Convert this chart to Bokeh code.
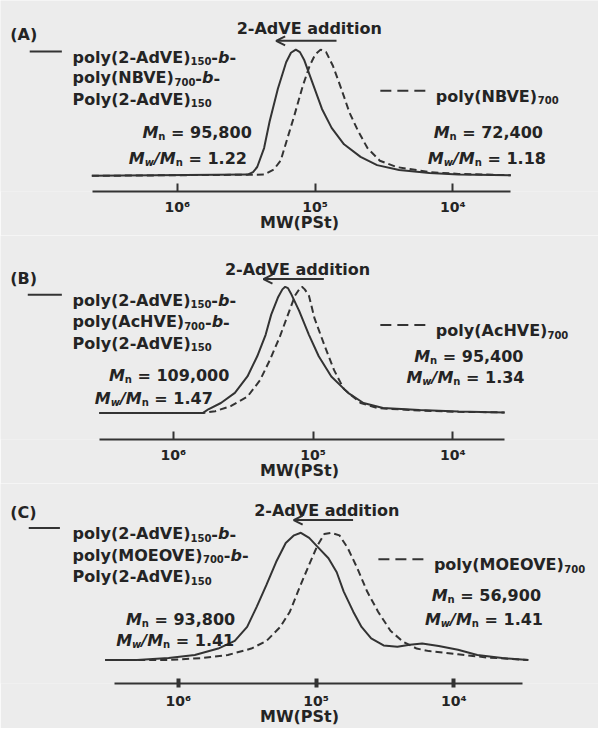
from bokeh.plotting import figure
from bokeh.layouts import column
from bokeh.models import Range1d, FixedTicker, Label, Arrow, OpenHead
from bokeh.embed import file_html
from bokeh.resources import INLINE

# ---------------- data ----------------
tick_values = [1e4, 1e5, 1e6]
tick_labels = ["10\u2074", "10\u2075", "10\u2076"]
x_title = "MW(PSt)"
panel_tags = ["(A)", "(B)", "(C)"]
mid_blocks = ["NBVE", "AcHVE", "MOEOVE"]
end_dp = "150"
mid_dp = "700"
arrow_text = "2-AdVE addition"
mn_block = ["95,800", "109,000", "93,800"]
pdi_block = ["1.22", "1.47", "1.41"]
mn_homo = ["72,400", "95,400", "56,900"]
pdi_homo = ["1.18", "1.34", "1.41"]

# (A) triblock (solid) and poly(NBVE)700 (dashed): log10(MW) and normalised RI intensity
a_solid_logmw = [6.62, 5.49, 5.45, 5.42, 5.37, 5.33, 5.27, 5.21, 5.175, 5.14, 5.11, 5.08, 5.02,
                 4.95, 4.88, 4.79, 4.67, 4.55, 4.39, 4.17, 3.96, 3.58]
a_solid_int = [0.0, 0.01, 0.03, 0.07, 0.22, 0.43, 0.69, 0.90, 0.975, 1.0, 0.98, 0.92, 0.74,
               0.53, 0.38, 0.25, 0.15, 0.085, 0.047, 0.023, 0.01, 0.005]
a_dash_logmw = [6.62, 5.37, 5.30, 5.25, 5.20, 5.15, 5.09, 5.04, 5.00, 4.96, 4.92, 4.87, 4.81,
                4.75, 4.69, 4.62, 4.53, 4.41, 4.17, 3.96, 3.58]
a_dash_int = [0.0, 0.01, 0.05, 0.12, 0.30, 0.48, 0.71, 0.87, 0.96, 1.0, 0.98, 0.87, 0.69,
              0.50, 0.36, 0.22, 0.12, 0.07, 0.03, 0.015, 0.005]

# (B) triblock (solid) and poly(AcHVE)700 (dashed)
b_solid_logmw = [6.53, 5.79, 5.75, 5.66, 5.56, 5.47, 5.40, 5.34, 5.30, 5.25, 5.22, 5.20, 5.18,
                 5.16, 5.10, 5.03, 4.96, 4.87, 4.75, 4.64, 4.50, 4.24, 3.96, 3.63]
b_solid_int = [0.0, 0.0, 0.03, 0.08, 0.16, 0.29, 0.45, 0.62, 0.78, 0.92, 0.98, 1.0, 0.99,
               0.95, 0.81, 0.62, 0.45, 0.29, 0.16, 0.08, 0.04, 0.025, 0.012, 0.005]
b_dash_logmw = [6.53, 5.79, 5.70, 5.59, 5.47, 5.38, 5.31, 5.24, 5.18, 5.13, 5.10, 5.08, 5.06,
                5.03, 4.99, 4.92, 4.85, 4.78, 4.66, 4.54, 4.24, 3.96, 3.63]
b_dash_int = [0.0, 0.0, 0.015, 0.055, 0.13, 0.26, 0.42, 0.60, 0.78, 0.93, 0.98, 1.0, 0.98,
              0.93, 0.75, 0.54, 0.34, 0.19, 0.08, 0.04, 0.02, 0.01, 0.005]

# (C) triblock (solid) and poly(MOEOVE)700 (dashed)
c_solid_logmw = [6.53, 6.30, 6.07, 5.88, 5.71, 5.59, 5.50, 5.43, 5.36, 5.29, 5.22, 5.16, 5.11,
                 5.05, 4.98, 4.91, 4.85, 4.80, 4.73, 4.67, 4.60, 4.51, 4.41, 4.32, 4.23, 4.11,
                 3.97, 3.83, 3.65, 3.46]
c_solid_int = [0.0, 0.0, 0.015, 0.04, 0.09, 0.15, 0.26, 0.42, 0.59, 0.77, 0.92, 0.98, 1.0,
               0.96, 0.88, 0.80, 0.69, 0.54, 0.38, 0.26, 0.17, 0.115, 0.105, 0.12, 0.13, 0.11,
               0.08, 0.04, 0.015, 0.0]
c_dash_logmw = [6.53, 6.07, 5.83, 5.64, 5.47, 5.36, 5.26, 5.19, 5.12, 5.05, 4.99, 4.94, 4.89,
                4.83, 4.77, 4.70, 4.63, 4.55, 4.46, 4.37, 4.27, 4.18, 3.97, 3.76, 3.46]
c_dash_int = [0.0, 0.0, 0.015, 0.04, 0.09, 0.15, 0.26, 0.38, 0.57, 0.75, 0.90, 0.99, 1.0,
              0.98, 0.88, 0.72, 0.54, 0.38, 0.23, 0.145, 0.09, 0.07, 0.045, 0.02, 0.0]

curves = [
    (a_solid_logmw, a_solid_int, a_dash_logmw, a_dash_int),
    (b_solid_logmw, b_solid_int, b_dash_logmw, b_dash_int),
    (c_solid_logmw, c_solid_int, c_dash_logmw, c_dash_int),
]

# ---------------- styling / layout ----------------
BG = "#ececec"
TXT = "#242424"
LINE = "#333333"
FONT = "DejaVu Sans"
FS = 16
SUB = 10
W = 598
KX = 598 / 614.0   # reference px -> page px
KY = 728 / 744.0

EM = {' ': 0.348, '(': 0.457, ')': 0.457, ',': 0.380, '-': 0.415, '.': 0.380, '/': 0.365,
      '=': 0.838, 'A': 0.774, 'B': 0.762, 'C': 0.734, 'E': 0.683, 'H': 0.837, 'M': 0.995,
      'N': 0.837, 'O': 0.850, 'P': 0.733, 'V': 0.774, 'b': 0.716, 'c': 0.593, 'd': 0.716,
      'l': 0.343, 'n': 0.712, 'o': 0.687, 'p': 0.716, 'w': 0.924, 'y': 0.652, 'a': 0.675,
      'i': 0.343, 't': 0.478}
for _d in "0123456789":
    EM[_d] = 0.696


def text_w(s, size):
    return sum(EM.get(c, 0.68) for c in s) * size


# all positions in reference pixels
layout = [
    dict(h=235, bb=44, axis=195, x5=323, dec=141.5, xb=(94, 524), base=179, top=50,
         tag=(10, 29), title=(317, 23), arrow=(345, 283, 41), sline=(30, 63, 52),
         lx=74, ly=(52, 73, 95), dline=(390, 440, 92), dtext=(447, 92),
         lstat=((258, 129), (253, 155)), rstat=((557, 129), (560, 155)),
         tin=8, tout=0, tw=2, std=7, lstd=-5),
    dict(h=248, bb=44, axis=449, x5=321, dec=143.5, xb=(102, 517), base=422, top=293,
         tag=(10, 279), title=(305, 269), arrow=(332, 270, 285), sline=(28, 63, 301),
         lx=74, ly=(301, 323, 345), dline=(390, 440, 332), dtext=(447, 332),
         lstat=((235, 378), (218, 401)), rstat=((537, 358), (538, 380)),
         tin=8, tout=0, tw=2, std=7, lstd=-5),
    dict(h=245, bb=45, axis=701, x5=324, dec=141.5, xb=(117, 536), base=677, top=547,
         tag=(10, 520), title=(335, 518), arrow=(362, 301, 534), sline=(29, 61, 542),
         lx=74, ly=(542, 564, 586), dline=(388, 438, 574), dtext=(445, 574),
         lstat=((241, 630), (240, 651)), rstat=((555, 605), (557, 630)),
         tin=5, tout=4, tw=4, std=5, lstd=-5),
]


def build(i):
    g = layout[i]
    fh = g["h"] - g["bb"]

    def lg(X):
        return 5 + (g["x5"] - X) / g["dec"]

    def fx(X):
        return X * KX

    def sy(Y):
        return (g["axis"] - Y) * KY

    scale = (g["base"] - g["top"]) * KY
    off = sy(g["base"])
    p = figure(width=W, height=g["h"], x_axis_type="log",
               x_range=Range1d(10 ** lg(0), 10 ** lg(614)),
               y_range=Range1d(-off / scale, (fh - off) / scale),
               y_axis_location=None, toolbar_location=None, output_backend="svg",
               min_border_left=0, min_border_right=0, min_border_top=0,
               min_border_bottom=g["bb"], background_fill_color=BG, border_fill_color=BG,
               outline_line_color=None)
    p.xgrid.visible = False
    p.ygrid.visible = False

    ax = p.xaxis[0]
    ax.ticker = FixedTicker(ticks=tick_values)
    ax.major_label_overrides = {int(v): s for v, s in zip(tick_values, tick_labels)}
    ax.bounds = (10 ** lg(g["xb"][1]), 10 ** lg(g["xb"][0]))
    ax.axis_line_width = 2
    ax.axis_line_color = LINE
    ax.major_tick_in = g["tin"]
    ax.major_tick_out = g["tout"]
    ax.major_tick_line_width = g["tw"]
    ax.major_tick_line_color = LINE
    ax.minor_tick_line_color = None
    ax.major_label_standoff = g["std"]
    ax.major_label_text_font = FONT
    ax.major_label_text_font_style = "bold"
    ax.major_label_text_font_size = "14px"
    ax.major_label_text_color = TXT
    ax.axis_label = x_title
    ax.axis_label_standoff = g["lstd"]
    ax.axis_label_text_font = FONT
    ax.axis_label_text_font_style = "bold"
    ax.axis_label_text_font_size = "16px"
    ax.axis_label_text_color = TXT

    sx, sv, dx, dv = curves[i]
    p.line([10 ** v for v in sx], sv, line_color=LINE, line_width=2)
    p.line([10 ** v for v in dx], dv, line_color=LINE, line_width=2, line_dash="7 4")

    def base_y(Y, size=FS):
        return sy(Y) - 0.36 * size

    def add_text(x, y, text, size, style, align="left"):
        p.add_layout(Label(x=x, y=y, x_units="screen", y_units="screen", text=text,
                           text_font=FONT, text_font_style=style,
                           text_font_size=f"{size}px", text_color=TXT,
                           text_align=align, text_baseline="alphabetic"))

    def rich(X, Y, segs, align="left"):
        widths = [text_w(t, SUB if "s" in st else FS) for t, st in segs]
        x = fx(X) if align == "left" else fx(X) - sum(widths)
        b = base_y(Y)
        for (t, st), w in zip(segs, widths):
            if t.strip():
                size = SUB if "s" in st else FS
                style = "bold italic" if "i" in st else "bold"
                add_text(x, b - 4 if "s" in st else b, t, size, style)
            x += w

    def seg_line(x0, x1, Y, dash=None):
        kw = dict(line_dash=dash) if dash else {}
        p.add_layout(Arrow(start=None, end=None, x_start=fx(x0), x_end=fx(x1),
                           y_start=sy(Y), y_end=sy(Y),
                           start_units="screen", end_units="screen",
                           line_color=LINE, line_width=2, **kw))

    # panel tag and arrow annotation
    add_text(fx(g["tag"][0]), base_y(g["tag"][1], 16), panel_tags[i], 16, "bold")
    add_text(fx(g["title"][0]), base_y(g["title"][1]), arrow_text, FS, "bold", "center")
    ax0, ax1, ay = g["arrow"]
    p.add_layout(Arrow(end=OpenHead(size=9, line_width=2, line_color=LINE),
                       x_start=fx(ax0), x_end=fx(ax1), y_start=sy(ay), y_end=sy(ay),
                       start_units="screen", end_units="screen",
                       line_color=LINE, line_width=2))

    # legend: triblock copolymer (solid)
    seg_line(g["sline"][0], g["sline"][1], g["sline"][2])
    mid = mid_blocks[i]
    rich(g["lx"], g["ly"][0], [("poly(2-AdVE)", "n"), (end_dp, "s"), ("-", "n"), ("b", "i"), ("-", "n")])
    rich(g["lx"], g["ly"][1], [("poly(" + mid + ")", "n"), (mid_dp, "s"), ("-", "n"), ("b", "i"), ("-", "n")])
    rich(g["lx"], g["ly"][2], [("Poly(2-AdVE)", "n"), (end_dp, "s")])

    # legend: homopolymer (dashed)
    seg_line(g["dline"][0], g["dline"][1], g["dline"][2], dash="11 6")
    rich(g["dtext"][0], g["dtext"][1], [("poly(" + mid + ")", "n"), (mid_dp, "s")])

    # Mn, Mw/Mn annotations
    def stats(pos, mn, pdi):
        (x1, y1), (x2, y2) = pos
        rich(x1, y1, [("M", "i"), ("n", "s"), (" ", "n"), ("= " + mn, "n")], align="right")
        rich(x2, y2, [("M", "i"), ("w", "si"), ("/", "i"), ("M", "i"), ("n", "s"), (" ", "n"),
                      ("= " + pdi, "n")], align="right")

    stats(g["lstat"], mn_block[i], pdi_block[i])
    stats(g["rstat"], mn_homo[i], pdi_homo[i])
    return p


page = column(build(0), build(1), build(2), spacing=0)
open("out.html", "w").write(file_html(page, INLINE))
